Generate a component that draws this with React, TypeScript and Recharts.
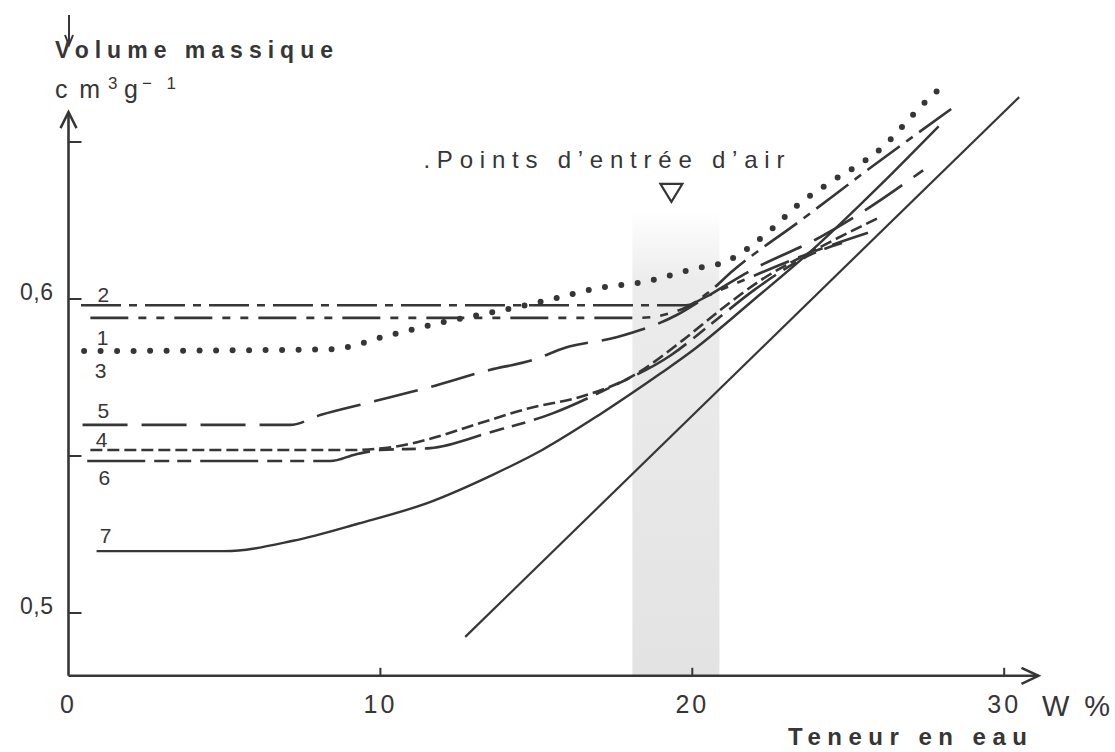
import React from 'react'
import {
  ComposedChart, Line, Scatter, XAxis, YAxis,
  ReferenceLine, ReferenceArea, ReferenceDot,
} from 'recharts'

const INK = '#363636'
const FONT = '"Liberation Sans", Arial, Helvetica, sans-serif'

// W (%) / volume massique (cm3/g)
const c1W = [0.7, 18.3, 19.6, 20.5, 22.0, 24.0, 25.7]
const c1V = [0.594, 0.594, 0.5965, 0.601, 0.6075, 0.6155, 0.6213]
const c2W = [0.4, 19.8, 20.5, 21.3, 23.5, 25.7, 28.3]
const c2V = [0.598, 0.598, 0.602, 0.609, 0.6252, 0.6417, 0.6605]
const c3W = [0.5, 8.4, 10.3, 11.9, 13.7, 15.4, 17.0, 18.5, 20.0, 21.1, 22.4, 23.5, 24.4, 26.0, 27.6, 28.0]
const c3V = [0.5834, 0.584, 0.5885, 0.5924, 0.596, 0.5997, 0.6035, 0.6055, 0.6095, 0.612, 0.621, 0.6309, 0.637, 0.6475, 0.664, 0.6675]
const c4W = [0.7, 9.0, 10.5, 11.6, 13.2, 14.8, 16.4, 18.0, 19.7, 20.9, 22.2, 24.0, 26.0]
const c4V = [0.5519, 0.5519, 0.553, 0.5555, 0.5605, 0.5653, 0.5688, 0.575, 0.5869, 0.5965, 0.606, 0.616, 0.626]
const c5W = [0.45, 7.1, 8.1, 9.6, 11.6, 13.5, 14.9, 15.9, 17.6, 19.5, 20.4, 21.9, 24.1, 25.5, 27.4]
const c5V = [0.5599, 0.5599, 0.5631, 0.5669, 0.572, 0.5774, 0.5806, 0.5844, 0.5879, 0.5949, 0.6003, 0.6092, 0.6197, 0.628, 0.641]
const c6W = [0.6, 8.4, 9.2, 10.0, 11.6, 13.5, 15.5, 17.4, 19.3, 20.6, 22.0, 23.9, 24.8]
const c6V = [0.5484, 0.5484, 0.5505, 0.5519, 0.5525, 0.5575, 0.5635, 0.572, 0.582, 0.592, 0.603, 0.6146, 0.6178]
const c7W = [0.9, 5.0, 7.2, 9.3, 11.5, 13.6, 15.2, 17.0, 19.0, 20.0, 22.0, 24.0, 26.0, 27.9]
const c7V = [0.5197, 0.5197, 0.523, 0.5285, 0.535, 0.544, 0.552, 0.563, 0.5764, 0.5835, 0.6, 0.617, 0.636, 0.655]
// saturation line
const satW = [12.72, 30.48]
const satV = [0.4924, 0.6643]

// curve numbers (baseline positions)
const labelText = ['2', '1', '3', '5', '4', '6', '7']
const labelW = [1.12, 1.09, 1.03, 1.12, 1.06, 1.15, 1.19]
const labelV = [0.599, 0.5853, 0.5748, 0.5621, 0.5529, 0.5408, 0.5223]

const xTicks = [0, 10, 20, 30]
const yTicks = [0.5, 0.55, 0.6, 0.65]
const yTickText: Record<string, string> = { '0.5': '0,5', '0.6': '0,6' }

// air entry zone
const bandW = [18.08, 20.87]
const bandTop = 0.628
const airMarkW = 19.33
const airMarkV = 0.6338
const airTextW = 11.38
const airTextV = 0.6417

const zip = (xs: number[], ys: number[]) => xs.map((x, i) => ({ x, y: ys[i] }))

const XTick = (p: any) => {
  const { x, y, payload } = p
  return (
    <g>
      {payload.value > 0 && <line x1={x} x2={x} y1={y} y2={y - 8} stroke={INK} strokeWidth={2} />}
      <text x={x} y={y + 37} textAnchor="middle" fontSize={25} letterSpacing={3} fontFamily={FONT} fill={INK}>
        {payload.value}
      </text>
    </g>
  )
}

const YTick = (p: any) => {
  const { x, y, payload } = p
  const t = yTickText[String(payload.value)]
  return (
    <g>
      <line x1={x} x2={x + 13} y1={y} y2={y} stroke={INK} strokeWidth={2} />
      {t && (
        <text x={x - 15} y={y + 1} textAnchor="end" fontSize={23} letterSpacing={0.5} fontFamily={FONT} fill={INK}>
          {t}
        </text>
      )}
    </g>
  )
}

const ArrowUp = (p: any) => (
  <path d={`M${p.cx - 8},${p.cy + 16} L${p.cx},${p.cy} L${p.cx + 8},${p.cy + 16}`} fill="none" stroke={INK} strokeWidth={2.5} />
)
const ArrowRight = (p: any) => (
  <path d={`M${p.cx - 17},${p.cy - 8} L${p.cx},${p.cy} L${p.cx - 17},${p.cy + 8}`} fill="none" stroke={INK} strokeWidth={2.5} />
)
const Triangle = (p: any) => (
  <path d={`M${p.cx - 11},${p.cy - 9} L${p.cx + 11},${p.cy - 9} L${p.cx},${p.cy + 9} Z`} fill="none" stroke={INK} strokeWidth={2.2} />
)
const AirText = (p: any) => (
  <text x={p.cx} y={p.cy} fontSize={24} fontFamily={FONT} fill={INK} textLength={361} lengthAdjust="spacing">
    .Points d’entrée d’air
  </text>
)
const Band = (p: any) => (
  <g>
    <defs>
      <linearGradient id="band" x1="0" y1="0" x2="0" y2="1">
        <stop offset="0%" stopColor="#ffffff" />
        <stop offset="15%" stopColor="#ececec" />
        <stop offset="100%" stopColor="#e3e3e3" />
      </linearGradient>
    </defs>
    <rect x={p.x} y={p.y} width={p.width} height={p.height} fill="url(#band)" />
  </g>
)
const NumLabel = (p: any) => (
  <text x={p.cx} y={p.cy} textAnchor="middle" fontSize={21} fontFamily={FONT} fill={INK}>
    {p.payload.t}
  </text>
)

const curve = (w: number[], v: number[], dash: string | undefined, width = 2.6, extra: any = {}) => (
  <Line
    data={zip(w, v)}
    dataKey="y"
    type="monotone"
    stroke={INK}
    strokeWidth={width}
    strokeDasharray={dash}
    dot={false}
    activeDot={false}
    isAnimationActive={false}
    {...extra}
  />
)

export default function App() {
  const labels = labelText.map((t, i) => ({ x: labelW[i], y: labelV[i], t }))
  return (
    <div style={{ position: 'absolute', left: 0, top: 0, width: 1115, height: 752, background: '#fff' }}>
      <ComposedChart width={1115} height={752} margin={{ top: 47.8, right: 76.5, bottom: 36.2, left: 8.5 }}>
        <XAxis
          type="number" dataKey="x" domain={[0, 31.1]} ticks={xTicks} interval={0}
          axisLine={false} tickLine={false} tickSize={0} tickMargin={0} height={40}
          tick={<XTick />} allowDataOverflow
        />
        <YAxis
          type="number" dataKey="y" domain={[0.48, 0.68]} ticks={yTicks} interval={0}
          axisLine={false} tickLine={false} tickSize={0} tickMargin={0} width={60}
          tick={<YTick />} allowDataOverflow
        />
        <ReferenceArea x1={bandW[0]} x2={bandW[1]} y1={0.48} y2={bandTop} shape={<Band />} ifOverflow="visible" />
        <ReferenceLine segment={[{ x: 0, y: 0.48 }, { x: 0, y: 0.6595 }]} stroke={INK} strokeWidth={2.6} ifOverflow="visible" />
        <ReferenceLine segment={[{ x: 0, y: 0.48 }, { x: 31.1, y: 0.48 }]} stroke={INK} strokeWidth={2.6} ifOverflow="visible" />
        <ReferenceDot x={0} y={0.6595} r={1} shape={<ArrowUp />} ifOverflow="visible" />
        <ReferenceDot x={31.1} y={0.48} r={1} shape={<ArrowRight />} ifOverflow="visible" />
        <ReferenceDot x={airMarkW} y={airMarkV} r={1} shape={<Triangle />} ifOverflow="visible" />
        <ReferenceDot x={airTextW} y={airTextV} r={1} shape={<AirText />} ifOverflow="visible" />

        {curve(satW, satV, undefined, 2.2, { type: 'linear' })}
        {curve(c7W, c7V, undefined, 2.4)}
        {curve(c6W, c6V, '58 9 15 8 14 9')}
        {curve(c4W, c4V, '12 5')}
        {curve(c5W, c5V, '45 14')}
        {curve(c1W, c1V, '38 10 8 10 8 10')}
        {curve(c2W, c2V, '40 8 8 8')}
        {curve(c3W, c3V, '0 16.5', 6, { strokeLinecap: 'round' })}

        <Scatter data={labels} dataKey="y" shape={<NumLabel />} isAnimationActive={false} />
      </ComposedChart>

      <svg width={1115} height={752} style={{ position: 'absolute', left: 0, top: 0, pointerEvents: 'none' }}>
        <g fill={INK} fontFamily={FONT}>
          <path d="M69,15 L69,44 M65,35 L69,45 L73,35" fill="none" stroke={INK} strokeWidth={2} />
          <text x={55} y={58} fontSize={23} fontWeight="bold" textLength={278} lengthAdjust="spacing">Volume massique</text>
          <text x={55} y={98} fontSize={25} textLength={45} lengthAdjust="spacing">cm</text>
          <text x={108} y={89} fontSize={17}>3</text>
          <text x={124} y={98} fontSize={25}>g</text>
          <text x={142} y={89} fontSize={17} textLength={34} lengthAdjust="spacing">−1</text>
          <text x={1042} y={716} fontSize={29} textLength={68} lengthAdjust="spacing">W %</text>
          <text x={788} y={745} fontSize={24} fontWeight="bold" textLength={239} lengthAdjust="spacing">Teneur en eau</text>
        </g>
      </svg>
    </div>
  )
}
